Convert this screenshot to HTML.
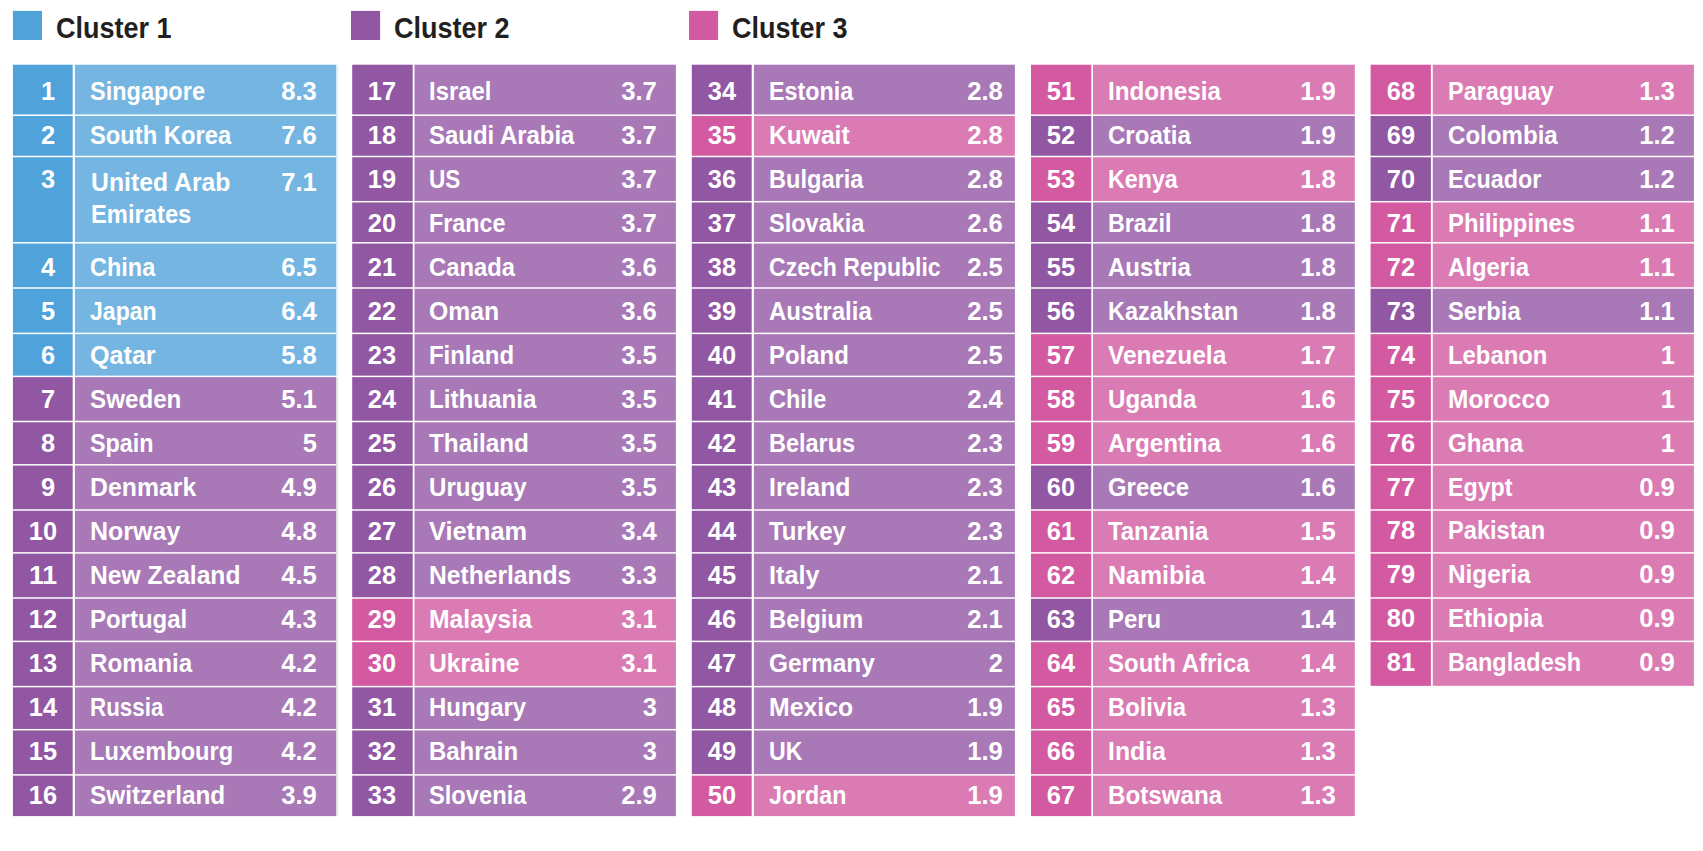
<!DOCTYPE html>
<html lang="en"><head><meta charset="utf-8"><title>Clusters</title>
<style>
html,body{margin:0;padding:0;background:#fff}
body{width:1703px;height:851px;position:relative;overflow:hidden;font-family:"Liberation Sans",sans-serif;font-weight:bold}
#bg{position:absolute;left:0;top:0;width:1703px;height:851px;display:block}
.lg{position:absolute;font-size:29.3px;line-height:34px;height:34px;color:#231f20;white-space:nowrap;transform-origin:0 50%;display:inline-block}
.col{position:absolute;top:0;height:851px;width:323.3px}
.t{position:absolute;display:inline-block;white-space:nowrap;color:#fff;font-size:25.1px;line-height:28px;height:28px}
.c{width:60px;text-align:center;transform-origin:50% 50%}
.l{left:77.1px;transform-origin:0 50%}
.v{transform-origin:100% 50%;text-align:right}
</style></head><body>

<svg id="bg" width="1703" height="851" viewBox="0 0 1703 851">
<rect x="12.9" y="10.9" width="29.1" height="29.1" fill="#50a2da"/>
<rect x="351" y="10.9" width="29.1" height="29.1" fill="#9157a3"/>
<rect x="689" y="10.9" width="29.1" height="29.1" fill="#d35aa1"/>
<rect x="12.9" y="64.7" width="59.8" height="49.75" fill="#50a2da"/><rect x="74.9" y="64.7" width="261.1" height="49.75" fill="#75b5e1"/>
<rect x="12.9" y="115.95" width="59.8" height="39.8" fill="#50a2da"/><rect x="74.9" y="115.95" width="261.1" height="39.8" fill="#75b5e1"/>
<rect x="12.9" y="157.25" width="59.8" height="84.8" fill="#50a2da"/><rect x="74.9" y="157.25" width="261.1" height="84.8" fill="#75b5e1"/>
<rect x="12.9" y="243.55" width="59.8" height="43.7" fill="#50a2da"/><rect x="74.9" y="243.55" width="261.1" height="43.7" fill="#75b5e1"/>
<rect x="12.9" y="288.75" width="59.8" height="43.9" fill="#50a2da"/><rect x="74.9" y="288.75" width="261.1" height="43.9" fill="#75b5e1"/>
<rect x="12.9" y="334.15" width="59.8" height="41.5" fill="#50a2da"/><rect x="74.9" y="334.15" width="261.1" height="41.5" fill="#75b5e1"/>
<rect x="12.9" y="377.15" width="59.8" height="43.6" fill="#9157a3"/><rect x="74.9" y="377.15" width="261.1" height="43.6" fill="#a879b6"/>
<rect x="12.9" y="422.25" width="59.8" height="41.8" fill="#9157a3"/><rect x="74.9" y="422.25" width="261.1" height="41.8" fill="#a879b6"/>
<rect x="12.9" y="465.55" width="59.8" height="43.7" fill="#9157a3"/><rect x="74.9" y="465.55" width="261.1" height="43.7" fill="#a879b6"/>
<rect x="12.9" y="510.75" width="59.8" height="41.4" fill="#9157a3"/><rect x="74.9" y="510.75" width="261.1" height="41.4" fill="#a879b6"/>
<rect x="12.9" y="553.65" width="59.8" height="43.6" fill="#9157a3"/><rect x="74.9" y="553.65" width="261.1" height="43.6" fill="#a879b6"/>
<rect x="12.9" y="598.75" width="59.8" height="41.9" fill="#9157a3"/><rect x="74.9" y="598.75" width="261.1" height="41.9" fill="#a879b6"/>
<rect x="12.9" y="642.15" width="59.8" height="43.7" fill="#9157a3"/><rect x="74.9" y="642.15" width="261.1" height="43.7" fill="#a879b6"/>
<rect x="12.9" y="687.35" width="59.8" height="41.6" fill="#9157a3"/><rect x="74.9" y="687.35" width="261.1" height="41.6" fill="#a879b6"/>
<rect x="12.9" y="730.45" width="59.8" height="43.7" fill="#9157a3"/><rect x="74.9" y="730.45" width="261.1" height="43.7" fill="#a879b6"/>
<rect x="12.9" y="775.65" width="59.8" height="40.45" fill="#9157a3"/><rect x="74.9" y="775.65" width="261.1" height="40.45" fill="#a879b6"/>
<rect x="352.2" y="64.7" width="60.5" height="49.75" fill="#9157a3"/><rect x="414.5" y="64.7" width="261.4" height="49.75" fill="#a879b6"/>
<rect x="352.2" y="115.95" width="60.5" height="39.8" fill="#9157a3"/><rect x="414.5" y="115.95" width="261.4" height="39.8" fill="#a879b6"/>
<rect x="352.2" y="157.25" width="60.5" height="43.7" fill="#9157a3"/><rect x="414.5" y="157.25" width="261.4" height="43.7" fill="#a879b6"/>
<rect x="352.2" y="202.45" width="60.5" height="39.6" fill="#9157a3"/><rect x="414.5" y="202.45" width="261.4" height="39.6" fill="#a879b6"/>
<rect x="352.2" y="243.55" width="60.5" height="43.7" fill="#9157a3"/><rect x="414.5" y="243.55" width="261.4" height="43.7" fill="#a879b6"/>
<rect x="352.2" y="288.75" width="60.5" height="43.9" fill="#9157a3"/><rect x="414.5" y="288.75" width="261.4" height="43.9" fill="#a879b6"/>
<rect x="352.2" y="334.15" width="60.5" height="41.5" fill="#9157a3"/><rect x="414.5" y="334.15" width="261.4" height="41.5" fill="#a879b6"/>
<rect x="352.2" y="377.15" width="60.5" height="43.6" fill="#9157a3"/><rect x="414.5" y="377.15" width="261.4" height="43.6" fill="#a879b6"/>
<rect x="352.2" y="422.25" width="60.5" height="41.8" fill="#9157a3"/><rect x="414.5" y="422.25" width="261.4" height="41.8" fill="#a879b6"/>
<rect x="352.2" y="465.55" width="60.5" height="43.7" fill="#9157a3"/><rect x="414.5" y="465.55" width="261.4" height="43.7" fill="#a879b6"/>
<rect x="352.2" y="510.75" width="60.5" height="41.4" fill="#9157a3"/><rect x="414.5" y="510.75" width="261.4" height="41.4" fill="#a879b6"/>
<rect x="352.2" y="553.65" width="60.5" height="43.6" fill="#9157a3"/><rect x="414.5" y="553.65" width="261.4" height="43.6" fill="#a879b6"/>
<rect x="352.2" y="598.75" width="60.5" height="41.9" fill="#d35aa1"/><rect x="414.5" y="598.75" width="261.4" height="41.9" fill="#da7bb4"/>
<rect x="352.2" y="642.15" width="60.5" height="43.7" fill="#d35aa1"/><rect x="414.5" y="642.15" width="261.4" height="43.7" fill="#da7bb4"/>
<rect x="352.2" y="687.35" width="60.5" height="41.6" fill="#9157a3"/><rect x="414.5" y="687.35" width="261.4" height="41.6" fill="#a879b6"/>
<rect x="352.2" y="730.45" width="60.5" height="43.7" fill="#9157a3"/><rect x="414.5" y="730.45" width="261.4" height="43.7" fill="#a879b6"/>
<rect x="352.2" y="775.65" width="60.5" height="40.45" fill="#9157a3"/><rect x="414.5" y="775.65" width="261.4" height="40.45" fill="#a879b6"/>
<rect x="691.8" y="64.7" width="59.9" height="49.75" fill="#9157a3"/><rect x="753.9" y="64.7" width="261" height="49.75" fill="#a879b6"/>
<rect x="691.8" y="115.95" width="59.9" height="39.8" fill="#d35aa1"/><rect x="753.9" y="115.95" width="261" height="39.8" fill="#da7bb4"/>
<rect x="691.8" y="157.25" width="59.9" height="43.7" fill="#9157a3"/><rect x="753.9" y="157.25" width="261" height="43.7" fill="#a879b6"/>
<rect x="691.8" y="202.45" width="59.9" height="39.6" fill="#9157a3"/><rect x="753.9" y="202.45" width="261" height="39.6" fill="#a879b6"/>
<rect x="691.8" y="243.55" width="59.9" height="43.7" fill="#9157a3"/><rect x="753.9" y="243.55" width="261" height="43.7" fill="#a879b6"/>
<rect x="691.8" y="288.75" width="59.9" height="43.9" fill="#9157a3"/><rect x="753.9" y="288.75" width="261" height="43.9" fill="#a879b6"/>
<rect x="691.8" y="334.15" width="59.9" height="41.5" fill="#9157a3"/><rect x="753.9" y="334.15" width="261" height="41.5" fill="#a879b6"/>
<rect x="691.8" y="377.15" width="59.9" height="43.6" fill="#9157a3"/><rect x="753.9" y="377.15" width="261" height="43.6" fill="#a879b6"/>
<rect x="691.8" y="422.25" width="59.9" height="41.8" fill="#9157a3"/><rect x="753.9" y="422.25" width="261" height="41.8" fill="#a879b6"/>
<rect x="691.8" y="465.55" width="59.9" height="43.7" fill="#9157a3"/><rect x="753.9" y="465.55" width="261" height="43.7" fill="#a879b6"/>
<rect x="691.8" y="510.75" width="59.9" height="41.4" fill="#9157a3"/><rect x="753.9" y="510.75" width="261" height="41.4" fill="#a879b6"/>
<rect x="691.8" y="553.65" width="59.9" height="43.6" fill="#9157a3"/><rect x="753.9" y="553.65" width="261" height="43.6" fill="#a879b6"/>
<rect x="691.8" y="598.75" width="59.9" height="41.9" fill="#9157a3"/><rect x="753.9" y="598.75" width="261" height="41.9" fill="#a879b6"/>
<rect x="691.8" y="642.15" width="59.9" height="43.7" fill="#9157a3"/><rect x="753.9" y="642.15" width="261" height="43.7" fill="#a879b6"/>
<rect x="691.8" y="687.35" width="59.9" height="41.6" fill="#9157a3"/><rect x="753.9" y="687.35" width="261" height="41.6" fill="#a879b6"/>
<rect x="691.8" y="730.45" width="59.9" height="43.7" fill="#9157a3"/><rect x="753.9" y="730.45" width="261" height="43.7" fill="#a879b6"/>
<rect x="691.8" y="775.65" width="59.9" height="40.45" fill="#d35aa1"/><rect x="753.9" y="775.65" width="261" height="40.45" fill="#da7bb4"/>
<rect x="1031" y="64.7" width="60.3" height="49.75" fill="#d35aa1"/><rect x="1093" y="64.7" width="261.8" height="49.75" fill="#da7bb4"/>
<rect x="1031" y="115.95" width="60.3" height="39.8" fill="#9157a3"/><rect x="1093" y="115.95" width="261.8" height="39.8" fill="#a879b6"/>
<rect x="1031" y="157.25" width="60.3" height="43.7" fill="#d35aa1"/><rect x="1093" y="157.25" width="261.8" height="43.7" fill="#da7bb4"/>
<rect x="1031" y="202.45" width="60.3" height="39.6" fill="#9157a3"/><rect x="1093" y="202.45" width="261.8" height="39.6" fill="#a879b6"/>
<rect x="1031" y="243.55" width="60.3" height="43.7" fill="#9157a3"/><rect x="1093" y="243.55" width="261.8" height="43.7" fill="#a879b6"/>
<rect x="1031" y="288.75" width="60.3" height="43.9" fill="#9157a3"/><rect x="1093" y="288.75" width="261.8" height="43.9" fill="#a879b6"/>
<rect x="1031" y="334.15" width="60.3" height="41.5" fill="#d35aa1"/><rect x="1093" y="334.15" width="261.8" height="41.5" fill="#da7bb4"/>
<rect x="1031" y="377.15" width="60.3" height="43.6" fill="#d35aa1"/><rect x="1093" y="377.15" width="261.8" height="43.6" fill="#da7bb4"/>
<rect x="1031" y="422.25" width="60.3" height="41.8" fill="#d35aa1"/><rect x="1093" y="422.25" width="261.8" height="41.8" fill="#da7bb4"/>
<rect x="1031" y="465.55" width="60.3" height="43.7" fill="#9157a3"/><rect x="1093" y="465.55" width="261.8" height="43.7" fill="#a879b6"/>
<rect x="1031" y="510.75" width="60.3" height="41.4" fill="#d35aa1"/><rect x="1093" y="510.75" width="261.8" height="41.4" fill="#da7bb4"/>
<rect x="1031" y="553.65" width="60.3" height="43.6" fill="#d35aa1"/><rect x="1093" y="553.65" width="261.8" height="43.6" fill="#da7bb4"/>
<rect x="1031" y="598.75" width="60.3" height="41.9" fill="#9157a3"/><rect x="1093" y="598.75" width="261.8" height="41.9" fill="#a879b6"/>
<rect x="1031" y="642.15" width="60.3" height="43.7" fill="#d35aa1"/><rect x="1093" y="642.15" width="261.8" height="43.7" fill="#da7bb4"/>
<rect x="1031" y="687.35" width="60.3" height="41.6" fill="#d35aa1"/><rect x="1093" y="687.35" width="261.8" height="41.6" fill="#da7bb4"/>
<rect x="1031" y="730.45" width="60.3" height="43.7" fill="#d35aa1"/><rect x="1093" y="730.45" width="261.8" height="43.7" fill="#da7bb4"/>
<rect x="1031" y="775.65" width="60.3" height="40.45" fill="#d35aa1"/><rect x="1093" y="775.65" width="261.8" height="40.45" fill="#da7bb4"/>
<rect x="1370.6" y="64.7" width="60.3" height="49.75" fill="#d35aa1"/><rect x="1432.8" y="64.7" width="261.1" height="49.75" fill="#da7bb4"/>
<rect x="1370.6" y="115.95" width="60.3" height="39.8" fill="#9157a3"/><rect x="1432.8" y="115.95" width="261.1" height="39.8" fill="#a879b6"/>
<rect x="1370.6" y="157.25" width="60.3" height="43.7" fill="#9157a3"/><rect x="1432.8" y="157.25" width="261.1" height="43.7" fill="#a879b6"/>
<rect x="1370.6" y="202.45" width="60.3" height="39.6" fill="#d35aa1"/><rect x="1432.8" y="202.45" width="261.1" height="39.6" fill="#da7bb4"/>
<rect x="1370.6" y="243.55" width="60.3" height="43.7" fill="#d35aa1"/><rect x="1432.8" y="243.55" width="261.1" height="43.7" fill="#da7bb4"/>
<rect x="1370.6" y="288.75" width="60.3" height="43.9" fill="#9157a3"/><rect x="1432.8" y="288.75" width="261.1" height="43.9" fill="#a879b6"/>
<rect x="1370.6" y="334.15" width="60.3" height="41.5" fill="#d35aa1"/><rect x="1432.8" y="334.15" width="261.1" height="41.5" fill="#da7bb4"/>
<rect x="1370.6" y="377.15" width="60.3" height="43.6" fill="#d35aa1"/><rect x="1432.8" y="377.15" width="261.1" height="43.6" fill="#da7bb4"/>
<rect x="1370.6" y="422.25" width="60.3" height="41.8" fill="#d35aa1"/><rect x="1432.8" y="422.25" width="261.1" height="41.8" fill="#da7bb4"/>
<rect x="1370.6" y="465.55" width="60.3" height="43.7" fill="#d35aa1"/><rect x="1432.8" y="465.55" width="261.1" height="43.7" fill="#da7bb4"/>
<rect x="1370.6" y="510.75" width="60.3" height="41.4" fill="#d35aa1"/><rect x="1432.8" y="510.75" width="261.1" height="41.4" fill="#da7bb4"/>
<rect x="1370.6" y="553.65" width="60.3" height="43.6" fill="#d35aa1"/><rect x="1432.8" y="553.65" width="261.1" height="43.6" fill="#da7bb4"/>
<rect x="1370.6" y="598.75" width="60.3" height="41.9" fill="#d35aa1"/><rect x="1432.8" y="598.75" width="261.1" height="41.9" fill="#da7bb4"/>
<rect x="1370.6" y="642.15" width="60.3" height="43.7" fill="#d35aa1"/><rect x="1432.8" y="642.15" width="261.1" height="43.7" fill="#da7bb4"/>
<rect x="336" y="64.7" width="1.9" height="310.9" fill="#75b5e1" opacity=".28"/><rect x="336" y="377.2" width="1.9" height="438.9" fill="#a879b6" opacity=".28"/>
</svg>
<span class="lg" style="left:55.7px;top:11px;transform:scaleX(0.9216)">Cluster 1</span>
<span class="lg" style="left:393.8px;top:11px;transform:scaleX(0.9216)">Cluster 2</span>
<span class="lg" style="left:731.8px;top:11px;transform:scaleX(0.9216)">Cluster 3</span>
<div class="col" style="left:12.9px">
<span class="t c" style="left:4.8px;top:77.2px;transform:scaleX(1.0114)">1</span><span class="t l" style="top:77.2px;transform:scaleX(0.9369)">Singapore</span><span class="t v" style="right:19.6px;top:77.2px;transform:scaleX(1.0226)">8.3</span>
<span class="t c" style="left:4.8px;top:121.2px;transform:scaleX(1.0114)">2</span><span class="t l" style="top:121.2px;transform:scaleX(0.9459)">South Korea</span><span class="t v" style="right:19.6px;top:121.2px;transform:scaleX(1.0226)">7.6</span>
<span class="t c" style="left:4.8px;top:165.2px;transform:scaleX(1.0114)">3</span><span class="t l" style="left:78.1px;top:168.2px;transform:scaleX(0.9868)">United Arab</span><span class="t l" style="left:78.1px;top:200.2px;transform:scaleX(0.9462)">Emirates</span><span class="t v" style="right:19.6px;top:168.2px;transform:scaleX(1.0226)">7.1</span>
<span class="t c" style="left:4.8px;top:253.2px;transform:scaleX(1.0114)">4</span><span class="t l" style="top:253.2px;transform:scaleX(0.9357)">China</span><span class="t v" style="right:19.6px;top:253.2px;transform:scaleX(1.0226)">6.5</span>
<span class="t c" style="left:4.8px;top:297.2px;transform:scaleX(1.0114)">5</span><span class="t l" style="top:297.2px;transform:scaleX(0.9185)">Japan</span><span class="t v" style="right:19.6px;top:297.2px;transform:scaleX(1.0226)">6.4</span>
<span class="t c" style="left:4.8px;top:341.2px;transform:scaleX(1.0114)">6</span><span class="t l" style="top:341.2px;transform:scaleX(1.0013)">Qatar</span><span class="t v" style="right:19.6px;top:341.2px;transform:scaleX(1.0226)">5.8</span>
<span class="t c" style="left:4.8px;top:385.2px;transform:scaleX(1.0114)">7</span><span class="t l" style="top:385.2px;transform:scaleX(0.9636)">Sweden</span><span class="t v" style="right:19.6px;top:385.2px;transform:scaleX(1.0226)">5.1</span>
<span class="t c" style="left:4.8px;top:429.2px;transform:scaleX(1.0114)">8</span><span class="t l" style="top:429.2px;transform:scaleX(0.9316)">Spain</span><span class="t v" style="right:19.6px;top:429.2px;transform:scaleX(1.0114)">5</span>
<span class="t c" style="left:4.8px;top:473.2px;transform:scaleX(1.0114)">9</span><span class="t l" style="top:473.2px;transform:scaleX(0.9889)">Denmark</span><span class="t v" style="right:19.6px;top:473.2px;transform:scaleX(1.0226)">4.9</span>
<span class="t c" style="left:-0.1px;top:517.2px;transform:scaleX(1.0116)">10</span><span class="t l" style="top:517.2px;transform:scaleX(0.9959)">Norway</span><span class="t v" style="right:19.6px;top:517.2px;transform:scaleX(1.0226)">4.8</span>
<span class="t c" style="left:-0.1px;top:561.2px;transform:scaleX(1.0644)">11</span><span class="t l" style="top:561.2px;transform:scaleX(0.9807)">New Zealand</span><span class="t v" style="right:19.6px;top:561.2px;transform:scaleX(1.0226)">4.5</span>
<span class="t c" style="left:-0.1px;top:605.2px;transform:scaleX(1.0116)">12</span><span class="t l" style="top:605.2px;transform:scaleX(0.9548)">Portugal</span><span class="t v" style="right:19.6px;top:605.2px;transform:scaleX(1.0226)">4.3</span>
<span class="t c" style="left:-0.1px;top:649.2px;transform:scaleX(1.0116)">13</span><span class="t l" style="top:649.2px;transform:scaleX(0.9635)">Romania</span><span class="t v" style="right:19.6px;top:649.2px;transform:scaleX(1.0226)">4.2</span>
<span class="t c" style="left:-0.1px;top:693.2px;transform:scaleX(1.0116)">14</span><span class="t l" style="top:693.2px;transform:scaleX(0.8924)">Russia</span><span class="t v" style="right:19.6px;top:693.2px;transform:scaleX(1.0226)">4.2</span>
<span class="t c" style="left:-0.1px;top:737.2px;transform:scaleX(1.0116)">15</span><span class="t l" style="top:737.2px;transform:scaleX(0.9422)">Luxembourg</span><span class="t v" style="right:19.6px;top:737.2px;transform:scaleX(1.0226)">4.2</span>
<span class="t c" style="left:-0.1px;top:781.2px;transform:scaleX(1.0116)">16</span><span class="t l" style="top:781.2px;transform:scaleX(0.9690)">Switzerland</span><span class="t v" style="right:19.6px;top:781.2px;transform:scaleX(1.0226)">3.9</span>
</div>
<div class="col" style="left:352.2px">
<span class="t c" style="left:-0.1px;top:77.2px;transform:scaleX(1.0116)">17</span><span class="t l" style="top:77.2px;transform:scaleX(0.9521)">Israel</span><span class="t v" style="right:18.5px;top:77.2px;transform:scaleX(1.0226)">3.7</span>
<span class="t c" style="left:-0.1px;top:121.2px;transform:scaleX(1.0116)">18</span><span class="t l" style="top:121.2px;transform:scaleX(0.9537)">Saudi Arabia</span><span class="t v" style="right:18.5px;top:121.2px;transform:scaleX(1.0226)">3.7</span>
<span class="t c" style="left:-0.1px;top:165.2px;transform:scaleX(1.0116)">19</span><span class="t l" style="top:165.2px;transform:scaleX(0.8994)">US</span><span class="t v" style="right:18.5px;top:165.2px;transform:scaleX(1.0226)">3.7</span>
<span class="t c" style="left:-0.1px;top:209.2px;transform:scaleX(1.0116)">20</span><span class="t l" style="top:209.2px;transform:scaleX(0.9290)">France</span><span class="t v" style="right:18.5px;top:209.2px;transform:scaleX(1.0226)">3.7</span>
<span class="t c" style="left:-0.1px;top:253.2px;transform:scaleX(1.0116)">21</span><span class="t l" style="top:253.2px;transform:scaleX(0.9475)">Canada</span><span class="t v" style="right:18.5px;top:253.2px;transform:scaleX(1.0226)">3.6</span>
<span class="t c" style="left:-0.1px;top:297.2px;transform:scaleX(1.0116)">22</span><span class="t l" style="top:297.2px;transform:scaleX(0.9870)">Oman</span><span class="t v" style="right:18.5px;top:297.2px;transform:scaleX(1.0226)">3.6</span>
<span class="t c" style="left:-0.1px;top:341.2px;transform:scaleX(1.0116)">23</span><span class="t l" style="top:341.2px;transform:scaleX(0.9534)">Finland</span><span class="t v" style="right:18.5px;top:341.2px;transform:scaleX(1.0226)">3.5</span>
<span class="t c" style="left:-0.1px;top:385.2px;transform:scaleX(1.0116)">24</span><span class="t l" style="top:385.2px;transform:scaleX(0.9635)">Lithuania</span><span class="t v" style="right:18.5px;top:385.2px;transform:scaleX(1.0226)">3.5</span>
<span class="t c" style="left:-0.1px;top:429.2px;transform:scaleX(1.0116)">25</span><span class="t l" style="top:429.2px;transform:scaleX(0.9675)">Thailand</span><span class="t v" style="right:18.5px;top:429.2px;transform:scaleX(1.0226)">3.5</span>
<span class="t c" style="left:-0.1px;top:473.2px;transform:scaleX(1.0116)">26</span><span class="t l" style="top:473.2px;transform:scaleX(0.9591)">Uruguay</span><span class="t v" style="right:18.5px;top:473.2px;transform:scaleX(1.0226)">3.5</span>
<span class="t c" style="left:-0.1px;top:517.2px;transform:scaleX(1.0116)">27</span><span class="t l" style="top:517.2px;transform:scaleX(1.0102)">Vietnam</span><span class="t v" style="right:18.5px;top:517.2px;transform:scaleX(1.0226)">3.4</span>
<span class="t c" style="left:-0.1px;top:561.2px;transform:scaleX(1.0116)">28</span><span class="t l" style="top:561.2px;transform:scaleX(0.9812)">Netherlands</span><span class="t v" style="right:18.5px;top:561.2px;transform:scaleX(1.0226)">3.3</span>
<span class="t c" style="left:-0.1px;top:605.2px;transform:scaleX(1.0116)">29</span><span class="t l" style="top:605.2px;transform:scaleX(0.9835)">Malaysia</span><span class="t v" style="right:18.5px;top:605.2px;transform:scaleX(1.0226)">3.1</span>
<span class="t c" style="left:-0.1px;top:649.2px;transform:scaleX(1.0116)">30</span><span class="t l" style="top:649.2px;transform:scaleX(0.9820)">Ukraine</span><span class="t v" style="right:18.5px;top:649.2px;transform:scaleX(1.0226)">3.1</span>
<span class="t c" style="left:-0.1px;top:693.2px;transform:scaleX(1.0116)">31</span><span class="t l" style="top:693.2px;transform:scaleX(0.9545)">Hungary</span><span class="t v" style="right:18.5px;top:693.2px;transform:scaleX(1.0114)">3</span>
<span class="t c" style="left:-0.1px;top:737.2px;transform:scaleX(1.0116)">32</span><span class="t l" style="top:737.2px;transform:scaleX(0.9541)">Bahrain</span><span class="t v" style="right:18.5px;top:737.2px;transform:scaleX(1.0114)">3</span>
<span class="t c" style="left:-0.1px;top:781.2px;transform:scaleX(1.0116)">33</span><span class="t l" style="top:781.2px;transform:scaleX(0.9435)">Slovenia</span><span class="t v" style="right:18.5px;top:781.2px;transform:scaleX(1.0226)">2.9</span>
</div>
<div class="col" style="left:691.8px">
<span class="t c" style="left:-0.1px;top:77.2px;transform:scaleX(1.0116)">34</span><span class="t l" style="top:77.2px;transform:scaleX(0.9299)">Estonia</span><span class="t v" style="right:12.5px;top:77.2px;transform:scaleX(1.0226)">2.8</span>
<span class="t c" style="left:-0.1px;top:121.2px;transform:scaleX(1.0116)">35</span><span class="t l" style="top:121.2px;transform:scaleX(0.9796)">Kuwait</span><span class="t v" style="right:12.5px;top:121.2px;transform:scaleX(1.0226)">2.8</span>
<span class="t c" style="left:-0.1px;top:165.2px;transform:scaleX(1.0116)">36</span><span class="t l" style="top:165.2px;transform:scaleX(0.9400)">Bulgaria</span><span class="t v" style="right:12.5px;top:165.2px;transform:scaleX(1.0226)">2.8</span>
<span class="t c" style="left:-0.1px;top:209.2px;transform:scaleX(1.0116)">37</span><span class="t l" style="top:209.2px;transform:scaleX(0.9366)">Slovakia</span><span class="t v" style="right:12.5px;top:209.2px;transform:scaleX(1.0226)">2.6</span>
<span class="t c" style="left:-0.1px;top:253.2px;transform:scaleX(1.0116)">38</span><span class="t l" style="top:253.2px;transform:scaleX(0.9189)">Czech Republic</span><span class="t v" style="right:12.5px;top:253.2px;transform:scaleX(1.0226)">2.5</span>
<span class="t c" style="left:-0.1px;top:297.2px;transform:scaleX(1.0116)">39</span><span class="t l" style="top:297.2px;transform:scaleX(0.9568)">Australia</span><span class="t v" style="right:12.5px;top:297.2px;transform:scaleX(1.0226)">2.5</span>
<span class="t c" style="left:-0.1px;top:341.2px;transform:scaleX(1.0116)">40</span><span class="t l" style="top:341.2px;transform:scaleX(0.9544)">Poland</span><span class="t v" style="right:12.5px;top:341.2px;transform:scaleX(1.0226)">2.5</span>
<span class="t c" style="left:-0.1px;top:385.2px;transform:scaleX(1.0116)">41</span><span class="t l" style="top:385.2px;transform:scaleX(0.9355)">Chile</span><span class="t v" style="right:12.5px;top:385.2px;transform:scaleX(1.0226)">2.4</span>
<span class="t c" style="left:-0.1px;top:429.2px;transform:scaleX(1.0116)">42</span><span class="t l" style="top:429.2px;transform:scaleX(0.9362)">Belarus</span><span class="t v" style="right:12.5px;top:429.2px;transform:scaleX(1.0226)">2.3</span>
<span class="t c" style="left:-0.1px;top:473.2px;transform:scaleX(1.0116)">43</span><span class="t l" style="top:473.2px;transform:scaleX(0.9908)">Ireland</span><span class="t v" style="right:12.5px;top:473.2px;transform:scaleX(1.0226)">2.3</span>
<span class="t c" style="left:-0.1px;top:517.2px;transform:scaleX(1.0116)">44</span><span class="t l" style="top:517.2px;transform:scaleX(0.9546)">Turkey</span><span class="t v" style="right:12.5px;top:517.2px;transform:scaleX(1.0226)">2.3</span>
<span class="t c" style="left:-0.1px;top:561.2px;transform:scaleX(1.0116)">45</span><span class="t l" style="top:561.2px;transform:scaleX(1.0075)">Italy</span><span class="t v" style="right:12.5px;top:561.2px;transform:scaleX(1.0226)">2.1</span>
<span class="t c" style="left:-0.1px;top:605.2px;transform:scaleX(1.0116)">46</span><span class="t l" style="top:605.2px;transform:scaleX(0.9509)">Belgium</span><span class="t v" style="right:12.5px;top:605.2px;transform:scaleX(1.0226)">2.1</span>
<span class="t c" style="left:-0.1px;top:649.2px;transform:scaleX(1.0116)">47</span><span class="t l" style="top:649.2px;transform:scaleX(0.9717)">Germany</span><span class="t v" style="right:12.5px;top:649.2px;transform:scaleX(1.0114)">2</span>
<span class="t c" style="left:-0.1px;top:693.2px;transform:scaleX(1.0116)">48</span><span class="t l" style="top:693.2px;transform:scaleX(0.9882)">Mexico</span><span class="t v" style="right:12.5px;top:693.2px;transform:scaleX(1.0226)">1.9</span>
<span class="t c" style="left:-0.1px;top:737.2px;transform:scaleX(1.0116)">49</span><span class="t l" style="top:737.2px;transform:scaleX(0.9220)">UK</span><span class="t v" style="right:12.5px;top:737.2px;transform:scaleX(1.0226)">1.9</span>
<span class="t c" style="left:-0.1px;top:781.2px;transform:scaleX(1.0116)">50</span><span class="t l" style="top:781.2px;transform:scaleX(0.9251)">Jordan</span><span class="t v" style="right:12.5px;top:781.2px;transform:scaleX(1.0226)">1.9</span>
</div>
<div class="col" style="left:1031px">
<span class="t c" style="left:-0.1px;top:77.2px;transform:scaleX(1.0116)">51</span><span class="t l" style="top:77.2px;transform:scaleX(0.9645)">Indonesia</span><span class="t v" style="right:18.8px;top:77.2px;transform:scaleX(1.0226)">1.9</span>
<span class="t c" style="left:-0.1px;top:121.2px;transform:scaleX(1.0116)">52</span><span class="t l" style="top:121.2px;transform:scaleX(0.9580)">Croatia</span><span class="t v" style="right:18.8px;top:121.2px;transform:scaleX(1.0226)">1.9</span>
<span class="t c" style="left:-0.1px;top:165.2px;transform:scaleX(1.0116)">53</span><span class="t l" style="top:165.2px;transform:scaleX(0.9256)">Kenya</span><span class="t v" style="right:18.8px;top:165.2px;transform:scaleX(1.0226)">1.8</span>
<span class="t c" style="left:-0.1px;top:209.2px;transform:scaleX(1.0116)">54</span><span class="t l" style="top:209.2px;transform:scaleX(0.9278)">Brazil</span><span class="t v" style="right:18.8px;top:209.2px;transform:scaleX(1.0226)">1.8</span>
<span class="t c" style="left:-0.1px;top:253.2px;transform:scaleX(1.0116)">55</span><span class="t l" style="top:253.2px;transform:scaleX(0.9574)">Austria</span><span class="t v" style="right:18.8px;top:253.2px;transform:scaleX(1.0226)">1.8</span>
<span class="t c" style="left:-0.1px;top:297.2px;transform:scaleX(1.0116)">56</span><span class="t l" style="top:297.2px;transform:scaleX(0.9342)">Kazakhstan</span><span class="t v" style="right:18.8px;top:297.2px;transform:scaleX(1.0226)">1.8</span>
<span class="t c" style="left:-0.1px;top:341.2px;transform:scaleX(1.0116)">57</span><span class="t l" style="top:341.2px;transform:scaleX(0.9745)">Venezuela</span><span class="t v" style="right:18.8px;top:341.2px;transform:scaleX(1.0226)">1.7</span>
<span class="t c" style="left:-0.1px;top:385.2px;transform:scaleX(1.0116)">58</span><span class="t l" style="top:385.2px;transform:scaleX(0.9597)">Uganda</span><span class="t v" style="right:18.8px;top:385.2px;transform:scaleX(1.0226)">1.6</span>
<span class="t c" style="left:-0.1px;top:429.2px;transform:scaleX(1.0116)">59</span><span class="t l" style="top:429.2px;transform:scaleX(0.9655)">Argentina</span><span class="t v" style="right:18.8px;top:429.2px;transform:scaleX(1.0226)">1.6</span>
<span class="t c" style="left:-0.1px;top:473.2px;transform:scaleX(1.0116)">60</span><span class="t l" style="top:473.2px;transform:scaleX(0.9524)">Greece</span><span class="t v" style="right:18.8px;top:473.2px;transform:scaleX(1.0226)">1.6</span>
<span class="t c" style="left:-0.1px;top:517.2px;transform:scaleX(1.0116)">61</span><span class="t l" style="top:517.2px;transform:scaleX(0.9514)">Tanzania</span><span class="t v" style="right:18.8px;top:517.2px;transform:scaleX(1.0226)">1.5</span>
<span class="t c" style="left:-0.1px;top:561.2px;transform:scaleX(1.0116)">62</span><span class="t l" style="top:561.2px;transform:scaleX(0.9950)">Namibia</span><span class="t v" style="right:18.8px;top:561.2px;transform:scaleX(1.0226)">1.4</span>
<span class="t c" style="left:-0.1px;top:605.2px;transform:scaleX(1.0116)">63</span><span class="t l" style="top:605.2px;transform:scaleX(0.9544)">Peru</span><span class="t v" style="right:18.8px;top:605.2px;transform:scaleX(1.0226)">1.4</span>
<span class="t c" style="left:-0.1px;top:649.2px;transform:scaleX(1.0116)">64</span><span class="t l" style="top:649.2px;transform:scaleX(0.9555)">South Africa</span><span class="t v" style="right:18.8px;top:649.2px;transform:scaleX(1.0226)">1.4</span>
<span class="t c" style="left:-0.1px;top:693.2px;transform:scaleX(1.0116)">65</span><span class="t l" style="top:693.2px;transform:scaleX(0.9485)">Bolivia</span><span class="t v" style="right:18.8px;top:693.2px;transform:scaleX(1.0226)">1.3</span>
<span class="t c" style="left:-0.1px;top:737.2px;transform:scaleX(1.0116)">66</span><span class="t l" style="top:737.2px;transform:scaleX(0.9890)">India</span><span class="t v" style="right:18.8px;top:737.2px;transform:scaleX(1.0226)">1.3</span>
<span class="t c" style="left:-0.1px;top:781.2px;transform:scaleX(1.0116)">67</span><span class="t l" style="top:781.2px;transform:scaleX(0.9628)">Botswana</span><span class="t v" style="right:18.8px;top:781.2px;transform:scaleX(1.0226)">1.3</span>
</div>
<div class="col" style="left:1370.6px">
<span class="t c" style="left:-0.1px;top:77.2px;transform:scaleX(1.0116)">68</span><span class="t l" style="top:77.2px;transform:scaleX(0.9352)">Paraguay</span><span class="t v" style="right:18.6px;top:77.2px;transform:scaleX(1.0226)">1.3</span>
<span class="t c" style="left:-0.1px;top:121.2px;transform:scaleX(1.0116)">69</span><span class="t l" style="top:121.2px;transform:scaleX(0.9598)">Colombia</span><span class="t v" style="right:18.6px;top:121.2px;transform:scaleX(1.0226)">1.2</span>
<span class="t c" style="left:-0.1px;top:165.2px;transform:scaleX(1.0116)">70</span><span class="t l" style="top:165.2px;transform:scaleX(0.9305)">Ecuador</span><span class="t v" style="right:18.6px;top:165.2px;transform:scaleX(1.0226)">1.2</span>
<span class="t c" style="left:-0.1px;top:209.2px;transform:scaleX(1.0116)">71</span><span class="t l" style="top:209.2px;transform:scaleX(0.9496)">Philippines</span><span class="t v" style="right:18.6px;top:209.2px;transform:scaleX(1.0226)">1.1</span>
<span class="t c" style="left:-0.1px;top:253.2px;transform:scaleX(1.0116)">72</span><span class="t l" style="top:253.2px;transform:scaleX(0.9538)">Algeria</span><span class="t v" style="right:18.6px;top:253.2px;transform:scaleX(1.0226)">1.1</span>
<span class="t c" style="left:-0.1px;top:297.2px;transform:scaleX(1.0116)">73</span><span class="t l" style="top:297.2px;transform:scaleX(0.9467)">Serbia</span><span class="t v" style="right:18.6px;top:297.2px;transform:scaleX(1.0226)">1.1</span>
<span class="t c" style="left:-0.1px;top:341.2px;transform:scaleX(1.0116)">74</span><span class="t l" style="top:341.2px;transform:scaleX(0.9504)">Lebanon</span><span class="t v" style="right:18.6px;top:341.2px;transform:scaleX(1.0114)">1</span>
<span class="t c" style="left:-0.1px;top:385.2px;transform:scaleX(1.0116)">75</span><span class="t l" style="top:385.2px;transform:scaleX(0.9755)">Morocco</span><span class="t v" style="right:18.6px;top:385.2px;transform:scaleX(1.0114)">1</span>
<span class="t c" style="left:-0.1px;top:429.2px;transform:scaleX(1.0116)">76</span><span class="t l" style="top:429.2px;transform:scaleX(0.9623)">Ghana</span><span class="t v" style="right:18.6px;top:429.2px;transform:scaleX(1.0114)">1</span>
<span class="t c" style="left:-0.1px;top:473.2px;transform:scaleX(1.0116)">77</span><span class="t l" style="top:473.2px;transform:scaleX(0.9250)">Egypt</span><span class="t v" style="right:18.6px;top:473.2px;transform:scaleX(1.0226)">0.9</span>
<span class="t c" style="left:-0.1px;top:516.2px;transform:scaleX(1.0116)">78</span><span class="t l" style="top:516.2px;transform:scaleX(0.9409)">Pakistan</span><span class="t v" style="right:18.6px;top:516.2px;transform:scaleX(1.0226)">0.9</span>
<span class="t c" style="left:-0.1px;top:560.2px;transform:scaleX(1.0116)">79</span><span class="t l" style="top:560.2px;transform:scaleX(0.9711)">Nigeria</span><span class="t v" style="right:18.6px;top:560.2px;transform:scaleX(1.0226)">0.9</span>
<span class="t c" style="left:-0.1px;top:604.2px;transform:scaleX(1.0116)">80</span><span class="t l" style="top:604.2px;transform:scaleX(0.9612)">Ethiopia</span><span class="t v" style="right:18.6px;top:604.2px;transform:scaleX(1.0226)">0.9</span>
<span class="t c" style="left:-0.1px;top:648.2px;transform:scaleX(1.0116)">81</span><span class="t l" style="top:648.2px;transform:scaleX(0.9360)">Bangladesh</span><span class="t v" style="right:18.6px;top:648.2px;transform:scaleX(1.0226)">0.9</span>
</div>
</body></html>
